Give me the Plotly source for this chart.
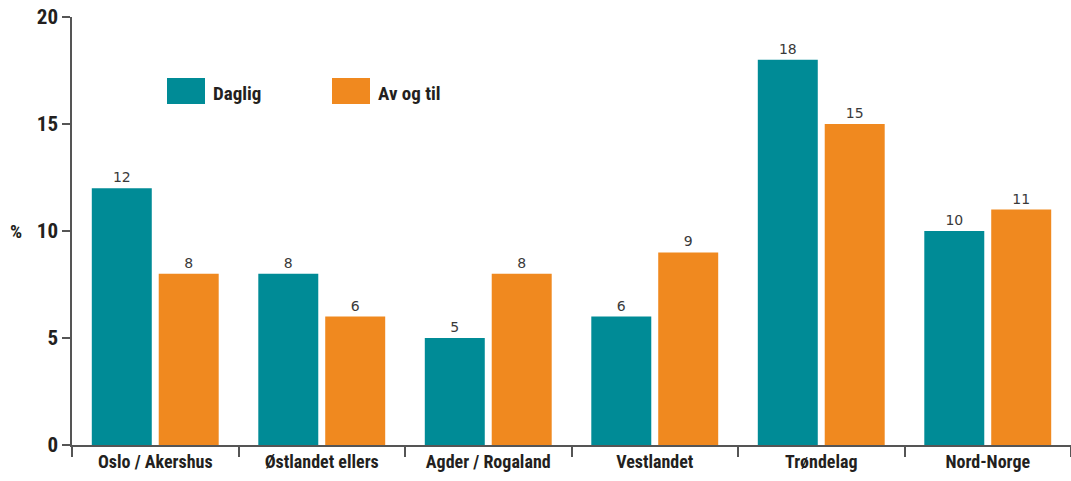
import plotly.graph_objects as go

categories = ["Oslo / Akershus", "Østlandet ellers", "Agder / Rogaland", "Vestlandet", "Trøndelag", "Nord-Norge"]
daglig = [12, 8, 5, 6, 18, 10]
av_og_til = [8, 6, 8, 9, 15, 11]
y_ticks = [0, 5, 10, 15, 20]

TEAL = "#008B96"
ORANGE = "#F0891F"
COND = "Liberation Sans Narrow, Roboto Condensed, Arial Narrow, sans-serif"
VAL = "DejaVu Sans, sans-serif"

W, H = 1071, 481
L, R, T, B = 72, 0, 17, 36
pw, ph = W - L - R, H - T - B

def px(x):
    return (x - L) / pw

def py(y):
    return (H - B - y) / ph

fig = go.Figure()
fig.add_bar(x=categories, y=daglig, name="Daglig", marker=dict(color=TEAL, line_width=0),
            text=daglig, textposition="outside", cliponaxis=False,
            textfont=dict(family=VAL, size=14, color="#3a3a3a"))
fig.add_bar(x=categories, y=av_og_til, name="Av og til", marker=dict(color=ORANGE, line_width=0),
            text=av_og_til, textposition="outside", cliponaxis=False,
            textfont=dict(family=VAL, size=14, color="#3a3a3a"))

fig.update_layout(
    width=W, height=H,
    margin=dict(l=L, r=R, t=T, b=B, autoexpand=False),
    barmode="group", bargap=0.196, bargroupgap=0.104,
    plot_bgcolor="white", paper_bgcolor="white",
    showlegend=False,
    font=dict(family=COND, color="#231F20"),
)
fig.update_xaxes(
    automargin=False,
    showline=True, linecolor="#555555", linewidth=1.5,
    ticks="outside", tickson="boundaries", ticklen=10, tickcolor="#555555", tickwidth=1.5,
    tickfont=dict(family=COND, size=18, color="#231F20", weight="bold"),
    showgrid=False,
)
fig.update_yaxes(
    automargin=False,
    range=[0, 20], tickvals=y_ticks, ticklabeloverflow="allow",
    showline=True, linecolor="#555555", linewidth=1.5,
    ticks="outside", ticklen=8, tickcolor="#555555", tickwidth=1.5,
    tickfont=dict(family=COND, size=21, color="#231F20", weight="bold"),
    showgrid=False, zeroline=False,
)

# legend
fig.add_shape(type="rect", xref="paper", yref="paper", x0=px(167), x1=px(205), y0=py(104), y1=py(78),
              fillcolor=TEAL, line_width=0)
fig.add_shape(type="rect", xref="paper", yref="paper", x0=px(332), x1=px(370), y0=py(104), y1=py(78),
              fillcolor=ORANGE, line_width=0)
fig.add_annotation(xref="paper", yref="paper", x=px(211), y=py(93), text="<b>Daglig</b>", showarrow=False,
                   xanchor="left", yanchor="middle", font=dict(family=COND, size=19, color="#231F20"))
fig.add_annotation(xref="paper", yref="paper", x=px(376), y=py(93), text="<b>Av og til</b>", showarrow=False,
                   xanchor="left", yanchor="middle", font=dict(family=COND, size=19, color="#231F20"))
fig.add_annotation(xref="paper", yref="paper", x=px(16), y=py(231), text="<b>%</b>", showarrow=False,
                   xanchor="center", yanchor="middle", font=dict(family=COND, size=19, color="#231F20"))

fig.write_html("out.html",
               config={"displayModeBar": False},
               post_script="document.body.style.margin='0';document.body.style.overflow='hidden';")
